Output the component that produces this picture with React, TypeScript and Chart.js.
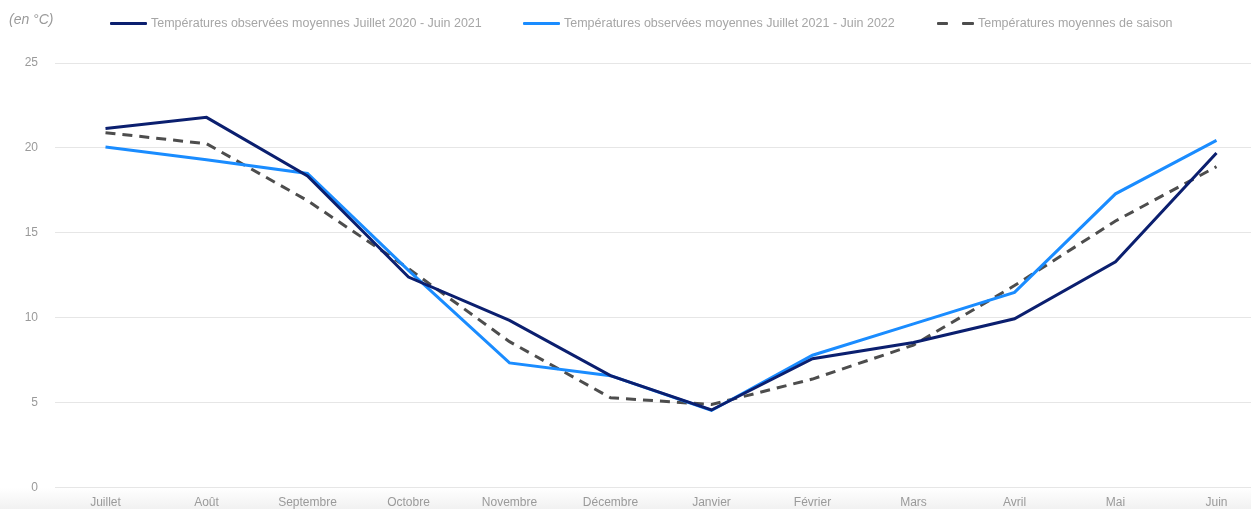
import React, { useEffect, useRef } from "react";
import { Chart, registerables } from "chart.js";

Chart.register(...registerables);

const months = [
  "Juillet", "Août", "Septembre", "Octobre", "Novembre", "Décembre",
  "Janvier", "Février", "Mars", "Avril", "Mai", "Juin",
];

const temp2020_2021 = [21.15, 21.8, 18.35, 12.4, 9.85, 6.6, 4.58, 7.6, 8.55, 9.95, 13.3, 19.7];
const temp2021_2022 = [20.05, 19.3, 18.5, 12.8, 7.35, 6.6, 4.55, 7.8, 9.65, 11.5, 17.3, 20.45];
const seasonalAvg = [20.9, 20.25, 16.9, 12.9, 8.6, 5.3, 4.9, 6.4, 8.4, 11.9, 15.7, 18.9];

const seriesNames = [
  "Températures observées moyennes Juillet 2020 - Juin 2021",
  "Températures observées moyennes Juillet 2021 - Juin 2022",
  "Températures moyennes de saison",
];
const seriesColors = ["#0b1f6f", "#1a8cff", "#4d4d4d"];
const seriesDashes: number[][] = [[], [], [10, 7]];

const FONT = "'Liberation Sans', Arial, Helvetica, sans-serif";

function LegendSwatch({ color, dashed }: { color: string; dashed: boolean }) {
  if (!dashed) {
    return <span style={{ display: "inline-block", width: 37, height: 3, background: color, borderRadius: 1 }} />;
  }
  return (
    <span style={{ display: "inline-flex", width: 37, justifyContent: "space-between" }}>
      <span style={{ display: "inline-block", width: 11, height: 3, background: color, borderRadius: 1 }} />
      <span style={{ display: "inline-block", width: 12, height: 3, background: color, borderRadius: 1 }} />
    </span>
  );
}

export default function App() {
  const canvasRef = useRef<HTMLCanvasElement | null>(null);

  useEffect(() => {
    document.body.style.margin = "0";
    const chart = new Chart(canvasRef.current as HTMLCanvasElement, {
      type: "line",
      data: {
        labels: months,
        datasets: [temp2020_2021, temp2021_2022, seasonalAvg].map((values, i) => ({
          label: seriesNames[i],
          data: values,
          borderColor: seriesColors[i],
          backgroundColor: seriesColors[i],
          borderWidth: 3,
          borderDash: seriesDashes[i],
          pointRadius: 0,
          tension: 0,
        })),
      },
      options: {
        animation: false,
        responsive: true,
        maintainAspectRatio: false,
        layout: { padding: { left: 23, right: 0, top: 63, bottom: -8 } },
        plugins: {
          tooltip: { enabled: false },
          legend: { display: false },
        },
        scales: {
          x: {
            offset: true,
            grid: { display: false, drawTicks: false },
            border: { display: false },
            ticks: {
              color: "#9a9a9a",
              padding: 8,
              font: { family: FONT, size: 12 },
              maxRotation: 0,
              autoSkip: false,
            },
          },
          y: {
            min: 0,
            max: 25,
            grid: { color: "#e6e6e6", lineWidth: 1, drawTicks: false },
            border: { display: false },
            afterFit: (scale) => {
              scale.width = 32;
            },
            ticks: {
              stepSize: 5,
              color: "#9a9a9a",
              padding: 17,
              font: { family: FONT, size: 12 },
            },
          },
        },
      },
    });
    return () => chart.destroy();
  }, []);

  const legendLeft = [110, 523, 937];

  return (
    <div
      style={{
        position: "relative",
        width: 1251,
        height: 509,
        overflow: "hidden",
        background: "linear-gradient(to bottom, #ffffff 0px, #ffffff 488px, #f1f1f1 509px)",
      }}
    >
      <div style={{ position: "absolute", left: 0, top: 0, width: 1267, height: 512 }}>
        <canvas ref={canvasRef} style={{ display: "block" }} />
      </div>
      <div
        style={{
          position: "absolute",
          left: 9,
          top: 11,
          fontFamily: FONT,
          fontStyle: "italic",
          fontSize: 14,
          color: "#9a9a9a",
        }}
      >
        (en °C)
      </div>
      {seriesNames.map((name, i) => (
        <div
          key={name}
          style={{
            position: "absolute",
            left: legendLeft[i],
            top: 14,
            height: 18,
            display: "flex",
            alignItems: "center",
            whiteSpace: "nowrap",
            fontFamily: FONT,
            fontSize: 12.5,
            color: "#a6a6a6",
          }}
        >
          <LegendSwatch color={seriesColors[i]} dashed={seriesDashes[i].length > 0} />
          <span style={{ marginLeft: 4 }}>{name}</span>
        </div>
      ))}
    </div>
  );
}
